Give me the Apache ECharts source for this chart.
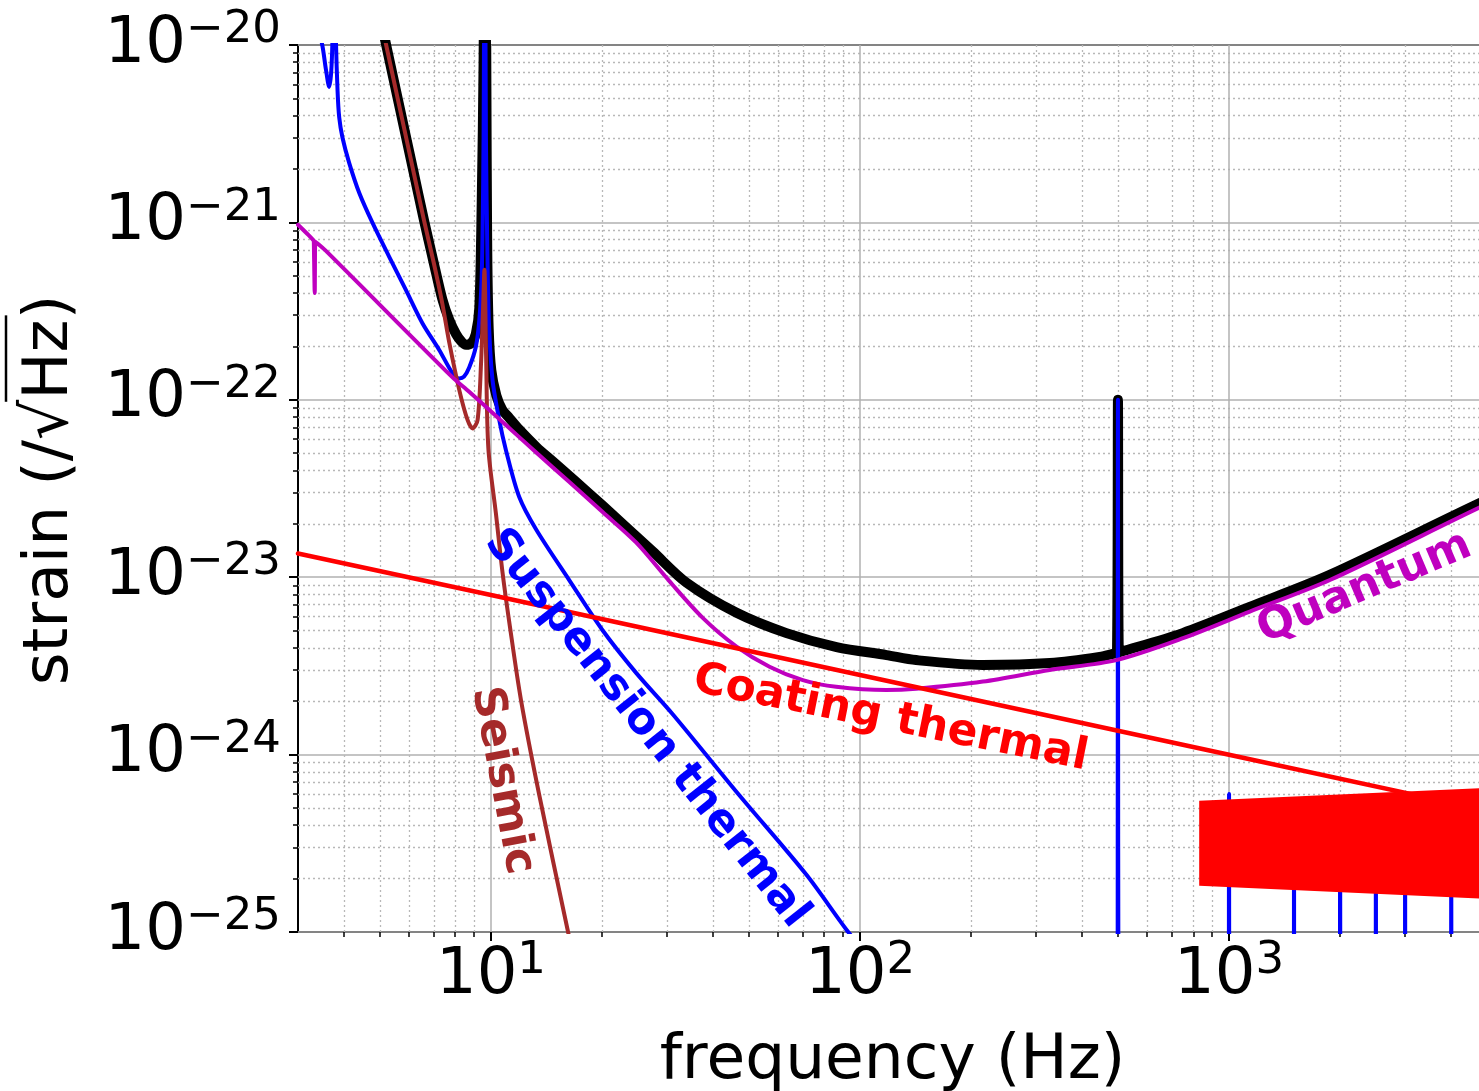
<!DOCTYPE html>
<html>
<head>
<meta charset="utf-8">
<script src="https://cdn.jsdelivr.net/npm/echarts@6/dist/echarts.min.js"></script>
<style>
  html, body { margin: 0; padding: 0; background: #ffffff; }
  #chart { width: 1479px; height: 1091px; }
</style>
</head>
<body>
<div id="chart"></div>
<script>
// Detector noise budget: strain amplitude spectral density vs frequency.

// Total noise
const totalFreq = [5.0, 5.2, 6.13, 6.59, 7.0, 7.38, 7.71, 8.04, 8.3, 8.55, 8.85, 9.1, 9.3, 9.44, 9.55, 9.62, 9.7, 9.77, 9.86, 10.02, 10.34, 10.73, 11.21, 11.93, 13.3, 14.7, 17.0, 20.0, 27.4, 33.9, 46.3, 63.2, 86.4, 118, 142, 215, 327, 446, 490, 497, 500, 503, 510, 749, 1138, 1875, 4750, 5000];
const totalStrain = [1.48e-20, 1.0e-20, 2.05e-21, 1.02e-21, 5.9e-22, 3.7e-22, 2.82e-22, 2.35e-22, 2.14e-22, 2.04e-22, 2.09e-22, 2.35e-22, 3.3e-22, 1.3e-21, 8e-21, 1e-19, 8e-21, 7.0e-22, 2.5e-22, 1.47e-22, 1.06e-22, 8.8e-23, 7.9e-23, 6.8e-23, 5.4e-23, 4.5e-23, 3.45e-23, 2.55e-23, 1.4e-23, 9.3e-24, 6.3e-24, 4.84e-24, 4.04e-24, 3.64e-24, 3.41e-24, 3.2e-24, 3.28e-24, 3.55e-24, 3.72e-24, 3.75e-24, 1.0e-22, 3.78e-24, 3.8e-24, 4.84e-24, 6.8e-24, 1.03e-23, 2.6e-23, 2.7e-23];

// Suspension thermal (pendulum modes + violin modes)
const suspFreq = [3.0, 3.3, 3.49, 3.57, 3.645, 3.69, 3.72, 3.76, 3.8, 3.84, 3.88, 3.96, 4.13, 4.4, 4.78, 5.3, 5.88, 6.52, 7.24, 7.87, 8.2, 8.45, 8.73, 9.1, 9.3, 9.43, 9.49, 9.55, 9.62, 9.69, 9.79, 9.89, 10.1, 10.53, 10.98, 11.93, 13.27, 16.31, 20.04, 24.77, 31.0, 47.1, 71.6, 91.9, 110, 497, 500, 503, 995, 1000, 1005, 1495, 1500, 1505, 1990, 2000, 2010, 2490, 2500, 2510, 2990, 3000, 3010, 3990, 4000, 4010];
const suspStrain = [4e-20, 1.6e-20, 1.0e-20, 7.3e-21, 5.8e-21, 7.0e-21, 1.1e-20, 5e-20, 1.1e-20, 5.5e-21, 3.9e-21, 3.0e-21, 2.16e-21, 1.46e-21, 9.9e-22, 6.4e-22, 4.16e-22, 2.7e-22, 1.91e-22, 1.41e-22, 1.32e-22, 1.35e-22, 1.52e-22, 1.99e-22, 2.82e-22, 4.7e-22, 9e-22, 3e-21, 1e-19, 3e-21, 5.9e-22, 2.5e-22, 1.29e-22, 7.7e-23, 5.2e-23, 2.83e-23, 1.85e-23, 9.6e-24, 5.04e-24, 2.88e-24, 1.7e-24, 5.9e-25, 2.1e-25, 1.03e-25, 6.5e-26, 1e-27, 1.0e-22, 1e-27, 1e-27, 6.0e-25, 1e-27, 1e-27, 5e-25, 1e-27, 1e-27, 5e-25, 1e-27, 1e-27, 4.5e-25, 1e-27, 1e-27, 4.5e-25, 1e-27, 1e-27, 4e-25, 1e-27];

// Seismic
const seisFreq = [5.0, 5.2, 6.13, 6.59, 7.0, 7.38, 7.71, 8.21, 8.64, 8.92, 9.2, 9.4, 9.52, 9.6, 9.7, 9.84, 10.31, 10.75, 11.25, 12.06, 13.52, 16.13, 18.0];
const seisStrain = [1.48e-20, 1.0e-20, 2.05e-21, 1.02e-21, 5.9e-22, 3.5e-22, 2.1e-22, 1.13e-22, 7.7e-23, 6.9e-23, 7.7e-23, 1.61e-22, 3.3e-22, 5.4e-22, 1.8e-22, 5.3e-23, 2.3e-23, 1.06e-23, 5.3e-24, 2.03e-24, 5.9e-25, 1.03e-25, 3.5e-26];

// Quantum
const quantFreq = [3.0, 3.2, 3.31, 3.32, 3.33, 3.34, 3.35, 3.6, 7.83, 8.73, 10.75, 13.24, 16.31, 20.07, 24.73, 30.44, 37.49, 46.17, 56.85, 70.0, 86.2, 117.8, 142.1, 215.3, 326.5, 495, 750.5, 1138, 1876, 4753, 5000];
const quantStrain = [9.7e-22, 8.5e-22, 7.9e-22, 7.85e-22, 4.0e-22, 7.8e-22, 7.75e-22, 6.8e-22, 1.35e-22, 1.11e-22, 7.5e-23, 5.06e-23, 3.44e-23, 2.33e-23, 1.57e-23, 9.5e-24, 5.9e-24, 4.08e-24, 3.13e-24, 2.63e-24, 2.41e-24, 2.31e-24, 2.35e-24, 2.58e-24, 3.0e-24, 3.41e-24, 4.53e-24, 6.4e-24, 9.64e-24, 2.46e-23, 2.55e-23];

// Coating thermal
const coatFreq = [3, 10, 100, 1000, 5000];
const coatStrain = [1.36e-23, 7.93e-24, 2.81e-24, 9.98e-25, 4.84e-25];

// High-frequency band (filled region)
const bandFreq = [830, 5000, 5000, 830];
const bandStrain = [5.5e-25, 6.5e-25, 1.54e-25, 1.82e-25];

// Axis ticks
const majorX = [10, 100, 1000];
const majorY = [1e-25, 1e-24, 1e-23, 1e-22, 1e-21, 1e-20];
const minorX = [4, 5, 6, 7, 8, 9, 20, 30, 40, 50, 60, 70, 80, 90, 200, 300, 400, 500, 600, 700, 800, 900, 2000, 3000, 4000];
const minorY = [];
for (let e = -25; e < -20; e++) {
  for (let m = 2; m <= 9; m++) minorY.push(Number((m * Math.pow(10, e)).toPrecision(3)));
}

const FONT = 'DejaVu Sans';
const zip = (fs, ss) => fs.map((f, i) => [f, ss[i]]);

function powLabel(v) {
  const e = Math.round(Math.log10(v));
  if (Math.abs(v / Math.pow(10, e) - 1) > 1e-6) return '';
  return '{b|10}{s|' + (e < 0 ? '\u2212' + (-e) : String(e)) + '}';
}
const rich = {
  b: { fontSize: 64, fontFamily: FONT, color: '#000', lineHeight: 64, verticalAlign: 'bottom' },
  s: { fontSize: 45, fontFamily: FONT, color: '#000', lineHeight: 45, verticalAlign: 'bottom', padding: [0, 0, 24, 0] }
};

const annotations = [
  { text: 'Suspension thermal', at: [26.4, 1.4e-24], angle: -51.6, color: '#0000ff' },
  { text: 'Seismic', at: [10.72, 7.13e-25], angle: -79.2, color: '#a52a2a' },
  { text: 'Coating thermal', at: [121, 1.59e-24], angle: -11.3, color: '#ff0000' },
  { text: 'Quantum', at: [2330, 8.69e-24], angle: 23, color: '#bf00bf' }
];

function curve(name, data, color, width, smooth) {
  return {
    type: 'line', name: name, data: data, showSymbol: false, symbol: 'none',
    clip: true, silent: true, animation: false, smooth: smooth, z: 2,
    lineStyle: { color: color, width: width, cap: 'round', join: 'round' },
    emphasis: { disabled: true }
  };
}

// y-axis title with a radical sign over "Hz"
function yTitle() {
  const font = '63px "DejaVu Sans"';
  const ctx = document.createElement('canvas').getContext('2d');
  ctx.font = font;
  const full = 'strain (/\u221AHz)';
  const wAll = ctx.measureText(full).width;
  const wPre = ctx.measureText('strain (/\u221A').width;
  const wHz = ctx.measureText('Hz').width;
  const x0 = -wAll / 2;
  return {
    type: 'group', x: 51, y: 490, rotation: Math.PI / 2, silent: true,
    children: [
      { type: 'text', style: { text: full, x: 0, y: 0, align: 'center', textAlign: 'center', verticalAlign: 'middle', textVerticalAlign: 'middle', font: font, fill: '#000' } },
      { type: 'line', shape: { x1: x0 + wPre - 2, y1: -45, x2: x0 + wPre + wHz + 4, y2: -45 }, style: { stroke: '#000', lineWidth: 2.5 } }
    ]
  };
}

const bandData = zip(bandFreq, bandStrain);

const chart = echarts.init(document.getElementById('chart'), null, { renderer: 'canvas' });
chart.setOption({
  animation: false,
  backgroundColor: '#ffffff',
  textStyle: { fontFamily: FONT },
  grid: {
    left: 298, top: 45, width: 1189, height: 887, show: true,
    borderColor: '#000', borderWidth: 2, backgroundColor: 'transparent',
    containLabel: false, outerBoundsMode: 'none'
  },
  graphic: [yTitle()],
  xAxis: [
    {
      type: 'log', logBase: 10, min: 3, max: 5000, position: 'bottom',
      axisLine: { show: false },
      axisTick: { show: true, customValues: majorX, length: 9, lineStyle: { color: '#000', width: 2 } },
      axisLabel: { show: true, customValues: majorX, formatter: powLabel, rich: rich, margin: 12 },
      splitLine: { show: true, lineStyle: { color: '#b0b0b0', width: 1.5 } },
      name: 'frequency (Hz)', nameLocation: 'middle', nameGap: 98,
      nameTextStyle: { fontSize: 63, fontFamily: FONT, color: '#000' }
    },
    {
      type: 'log', logBase: 10, min: 3, max: 5000, position: 'bottom',
      axisLine: { show: false },
      axisTick: { show: true, customValues: minorX, length: 5, lineStyle: { color: '#000', width: 1.5 } },
      axisLabel: { show: false },
      splitLine: { show: true, lineStyle: { color: '#b8b8b8', width: 1.3, type: [2, 3] } }
    }
  ],
  yAxis: [
    {
      type: 'log', logBase: 10, min: 1e-25, max: 1e-20, position: 'left',
      axisLine: { show: false },
      axisTick: { show: true, customValues: majorY, length: 9, lineStyle: { color: '#000', width: 2 } },
      axisLabel: { show: true, customValues: majorY, formatter: powLabel, rich: rich, margin: 17 },
      splitLine: { show: true, lineStyle: { color: '#b0b0b0', width: 1.5 } }
    },
    {
      type: 'log', logBase: 10, min: 1e-25, max: 1e-20, position: 'left',
      axisLine: { show: false },
      axisTick: { show: true, customValues: minorY, length: 5, lineStyle: { color: '#000', width: 1.5 } },
      axisLabel: { show: false },
      splitLine: { show: true, lineStyle: { color: '#b8b8b8', width: 1.3, type: [2, 3] } }
    }
  ],
  series: [
    curve('Total', zip(totalFreq, totalStrain), '#000000', 10, 0.3),
    curve('Suspension thermal', zip(suspFreq, suspStrain), '#0000ff', 4, 0.3),
    curve('Seismic', zip(seisFreq, seisStrain), '#a52a2a', 4, 0.3),
    curve('Quantum', zip(quantFreq, quantStrain), '#bf00bf', 4, 0.3),
    curve('Coating thermal', zip(coatFreq, coatStrain), '#ff0000', 4.5, false),
    {
      type: 'custom', name: 'band', coordinateSystem: 'cartesian2d', silent: true, clip: true, z: 4,
      data: [bandData[0]],
      renderItem: function (params, api) {
        return {
          type: 'polygon',
          shape: { points: bandData.map(function (p) { return api.coord(p); }) },
          style: { fill: '#ff0000' }
        };
      }
    },
    {
      type: 'scatter', name: 'labels', silent: true, symbolSize: 1, z: 10,
      itemStyle: { color: 'rgba(0,0,0,0)' },
      label: {
        show: true, position: 'inside', fontSize: 44, fontWeight: 'bold', fontFamily: FONT,
        textBorderWidth: 0, textBorderColor: 'transparent', opacity: 1
      },
      data: annotations.map(function (a) {
        return { value: a.at, label: { show: true, formatter: a.text, rotate: a.angle, color: a.color } };
      })
    }
  ]
});
</script>
</body>
</html>
